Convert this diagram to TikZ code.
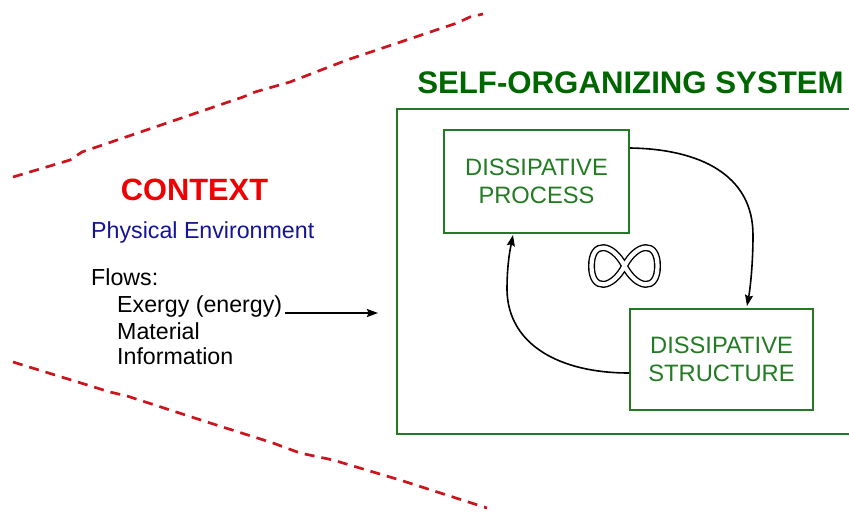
\documentclass[tikz,border=0pt]{standalone}
\usepackage{fontspec}
\setmainfont{Liberation Sans}
\usetikzlibrary{arrows.meta,calc}
\definecolor{titlegreen}{RGB}{0,102,0}
\definecolor{boxgreen}{RGB}{34,122,34}
\definecolor{dashred}{RGB}{204,20,30}
\definecolor{ctxred}{RGB}{240,0,0}
\definecolor{envblue}{RGB}{20,20,150}
\tikzset{
  procbox/.style={draw=boxgreen, line width=2pt, text=boxgreen, align=center,
    font=\fontsize{23.7}{27.5}\selectfont, inner sep=0pt},
  boundary/.style={draw=dashred, line width=2.7pt, dash pattern=on 10pt off 7pt},
  loopar/.style={draw=black, line width=1.6pt, -{Stealth[length=11pt,width=8pt,inset=1.5pt]}},
  flowtxt/.style={anchor=base west, inner sep=0pt, font=\fontsize{23.2}{27}\selectfont},
}
\begin{document}
\begin{tikzpicture}[x=1pt,y=-1pt]
\useasboundingbox (0,0) rectangle (849,512);
% context boundaries
\draw[boundary] (13,177) -- (70,160) -- (82,152) -- (243,97) -- (255,92) -- (290,82) -- (347,60) -- (457,23) -- (470,17) -- (483,14);
\draw[boundary] (13,362) -- (110,392) -- (127,396) -- (207,422) -- (273,443) -- (300,453) -- (333,460) -- (400,480) -- (487,508);
% system container
\node[anchor=base, text=titlegreen, font=\bfseries\fontsize{31.2}{34}\selectfont, inner sep=0pt] (title) at (630.5,93) {SELF-ORGANIZING SYSTEM};
\draw[draw=boxgreen, line width=2pt] (851,109) -- (397,109) -- (397,434) -- (851,434);
% inner boxes
\node[procbox, minimum width=185pt, minimum height=103pt] (proc) at (536.5,181.5) {DISSIPATIVE\\PROCESS};
\node[procbox, minimum width=183pt, minimum height=101pt] (struct) at (721.5,359.5) {DISSIPATIVE\\STRUCTURE};
% loop arrows
\draw[loopar] ($(proc.north east)+(0,19)$) .. controls (700,149) and (753,175) .. (753,235) .. controls (753,265) and (750,290) .. ($(struct.north west)+(118,-2)$);
\draw[loopar] ($(struct.west)+(0,13.5)$) .. controls (560,373) and (508,345) .. (507,290) .. controls (507,265) and (510,250) .. ($(proc.south west)+(70,1)$);
% infinity symbol
\coordinate (inf) at (624.5,266);
\draw[line width=1.4pt, double=white, double distance=4.2pt, shift={(inf)}]
  (0,0) .. controls (12,-23) and (33,-26) .. (33,0)
        .. controls (33,26) and (12,23) .. (0,0)
        .. controls (-12,-23) and (-33,-26) .. (-33,0)
        .. controls (-33,26) and (-12,23) .. (0,0) -- cycle;
% context text
\node[anchor=base, text=ctxred, font=\bfseries\fontsize{30.8}{34}\selectfont, inner sep=0pt] (ctx) at (194.5,200) {CONTEXT};
\node[flowtxt, text=envblue] (env) at (91,238) {Physical Environment};
\node[flowtxt] (flows) at (91,285) {Flows:};
\node[flowtxt] (exergy) at (117,312) {Exergy (energy)};
\node[flowtxt] (material) at (117,339) {Material};
\node[flowtxt] (info) at (117,364) {Information};
\coordinate (flowend) at (378,313);
\draw[line width=1.6pt, -{Stealth[length=11pt,width=8pt,inset=1.5pt]}] ($(exergy.base east)+(3,1)$) -- (flowend);
\end{tikzpicture}
\end{document}
